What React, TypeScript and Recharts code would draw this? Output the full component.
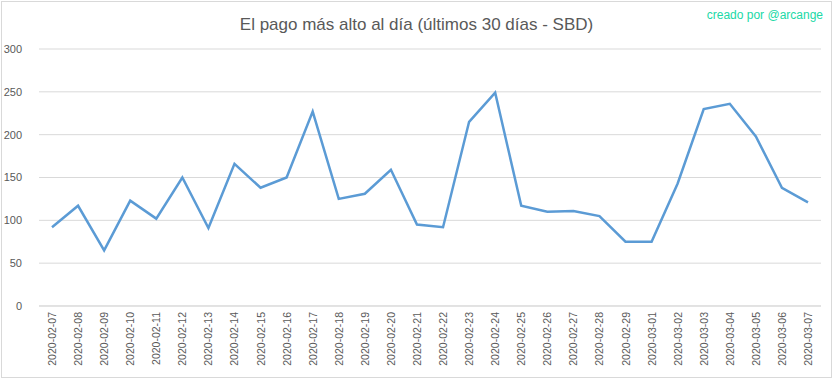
import React from "react";
import { CartesianGrid, Line, LineChart, XAxis, YAxis } from "recharts";

// días (últimos 30)
const dias = [
  "2020-02-07", "2020-02-08", "2020-02-09", "2020-02-10", "2020-02-11",
  "2020-02-12", "2020-02-13", "2020-02-14", "2020-02-15", "2020-02-16",
  "2020-02-17", "2020-02-18", "2020-02-19", "2020-02-20", "2020-02-21",
  "2020-02-22", "2020-02-23", "2020-02-24", "2020-02-25", "2020-02-26",
  "2020-02-27", "2020-02-28", "2020-02-29", "2020-03-01", "2020-03-02",
  "2020-03-03", "2020-03-04", "2020-03-05", "2020-03-06", "2020-03-07",
];

// pago más alto (SBD)
const pagoMax = [
  92, 117, 65, 123, 102, 150, 91, 166, 138, 150,
  227, 125, 131, 159, 95, 92, 215, 249, 117, 110,
  111, 105, 75, 75, 143, 230, 236, 198, 138, 121,
];

const yTicks = [0, 50, 100, 150, 200, 250, 300];

const data = dias.map((dia, i) => ({ dia, valor: pagoMax[i] }));

const FONT = "'Liberation Sans', Arial, sans-serif";
const INK = "#595959";

function DiaTick({ x, y, payload }: any) {
  return (
    <text
      transform={`translate(${x},${y}) rotate(-90)`}
      textAnchor="end"
      dominantBaseline="central"
      fontSize={10.5}
      fontFamily={FONT}
      fill={INK}
    >
      {payload.value}
    </text>
  );
}

export default function App() {
  return (
    <div
      style={{
        position: "absolute",
        left: 0,
        top: 0,
        width: 833,
        height: 379,
        background: "#fff",
        fontFamily: FONT,
      }}
    >
      <div
        style={{
          position: "absolute",
          left: 1,
          top: 1,
          width: 829,
          height: 375,
          border: "1px solid #d9d9d9",
        }}
      />
      <div
        style={{
          position: "absolute",
          left: 0,
          width: 833,
          top: 14,
          textAlign: "center",
          fontSize: 17,
          color: INK,
          lineHeight: "22px",
        }}
      >
        El pago más alto al día (últimos 30 días - SBD)
      </div>
      <div
        style={{
          position: "absolute",
          right: 10,
          top: 7,
          fontSize: 12,
          color: "#20d9a6",
          lineHeight: "16px",
        }}
      >
        creado por @arcange
      </div>
      <LineChart
        width={833}
        height={379}
        data={data}
        margin={{ top: 49, right: 12, bottom: 0, left: 0 }}
        style={{ position: "absolute", left: 0, top: 0 }}
      >
        <CartesianGrid vertical={false} stroke="#d9d9d9" strokeWidth={1} />
        <XAxis
          dataKey="dia"
          interval={0}
          height={73}
          padding={{ left: 13, right: 13 }}
          axisLine={{ stroke: "#d9d9d9" }}
          tickLine={false}
          tickMargin={0}
          tick={<DiaTick />}
        />
        <YAxis
          domain={[0, 300]}
          ticks={yTicks}
          width={39}
          axisLine={false}
          tickLine={false}
          tickMargin={11}
          tick={{ fontSize: 11, fill: INK, fontFamily: FONT }}
        />
        <Line
          type="linear"
          dataKey="valor"
          stroke="#5b9bd5"
          strokeWidth={2.5}
          dot={false}
          activeDot={false}
          isAnimationActive={false}
        />
      </LineChart>
    </div>
  );
}
